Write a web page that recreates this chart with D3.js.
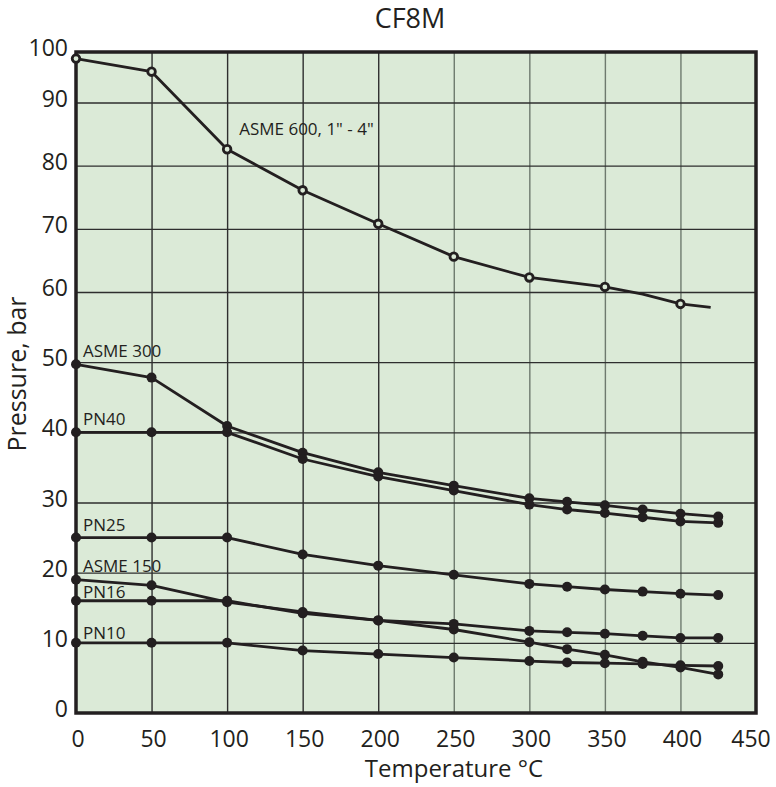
<!DOCTYPE html>
<html>
<head>
<meta charset="utf-8">
<script src="https://cdn.jsdelivr.net/npm/d3@7"></script>
<style>
	body { margin: 0; background: #fff; }
	text { font-family: 'Open Sans', sans-serif; fill: #231f20; }
</style>
</head>
<body>
<div id="chart"></div>
<script>
// data ////////////////////////////////////////////////////////////////////
var temps = [0, 50, 100, 150, 200, 250, 300, 325, 350, 375, 400, 425];
var asme600Temps = [0, 50, 100, 150, 200, 250, 300, 350, 375, 400, 420];
var asme600Marked = [0, 50, 100, 150, 200, 250, 300, 350, 400];

var asme600 = [98.7, 96.1, 82.6, 76.1, 70.8, 65.6, 62.3, 60.8, 59.7, 58.3, 57.8];
var asme300 = [49.7, 47.8, 40.9, 37.1, 34.3, 32.4, 30.6, 30.1, 29.6, 29.0, 28.4, 28.0];
var pn40    = [40, 40, 40, 36.2, 33.7, 31.7, 29.7, 29.0, 28.5, 27.9, 27.3, 27.1];
var pn25    = [25, 25, 25, 22.6, 21.0, 19.7, 18.4, 18.0, 17.6, 17.3, 17.0, 16.8];
var asme150 = [19.0, 18.2, 15.8, 14.4, 13.2, 11.9, 10.1, 9.1, 8.3, 7.3, 6.5, 5.5];
var pn16    = [16, 16, 16, 14.2, 13.2, 12.7, 11.7, 11.5, 11.3, 11.0, 10.7, 10.7];
var pn10    = [10, 10, 10, 8.9, 8.4, 7.9, 7.4, 7.2, 7.1, 7.0, 6.8, 6.7];

var xTicks = [0, 50, 100, 150, 200, 250, 300, 350, 400, 450];
var yTicks = [0, 10, 20, 30, 40, 50, 60, 70, 80, 90, 100];

// series label anchors, in data units
var labels = [
	{text: 'ASME 600, 1" - 4"', t: 108, p: 84.8},
	{text: 'ASME 300', t: 4.6, p: 50.7},
	{text: 'PN40', t: 4.6, p: 41},
	{text: 'PN25', t: 4.6, p: 25.9},
	{text: 'ASME 150', t: 4.6, p: 20.1},
	{text: 'PN16', t: 4.6, p: 16.4},
	{text: 'PN10', t: 4.6, p: 10.6}
];

// layout //////////////////////////////////////////////////////////////////
var W = 776, H = 787;
var plotL = 76, plotR = 756, plotT = 52, plotB = 713;
var ink = '#231f20';
var bg = '#dbead7';

var svg = d3.select('#chart').append('svg')
	.attr('width', W)
	.attr('height', H);

var x = d3.scaleLinear().domain([0, 450]).range([plotL, plotR]);
// the printed grid is not evenly spaced, so the scale is piecewise
var y = d3.scaleLinear().domain([0, 60, 90, 100]).range([plotB, 292, 102.5, plotT]);

svg.append('rect')
	.attr('x', plotL).attr('y', plotT)
	.attr('width', plotR - plotL).attr('height', plotB - plotT)
	.attr('fill', bg);

// grid
var gx = svg.append('g')
	.attr('transform', 'translate(0,' + plotB + ')')
	.call(d3.axisBottom(x).tickValues(xTicks.slice(1, -1)).tickSize(-(plotB - plotT)).tickFormat(''));
gx.select('.domain').remove();
gx.selectAll('line')
	.attr('stroke', function(d) { return d >= 250 ? '#6e7a6e' : '#2e2e2e'; })
	.attr('stroke-width', 1.4);

var gy = svg.append('g')
	.attr('transform', 'translate(' + plotL + ',0)')
	.call(d3.axisLeft(y).tickValues(yTicks.slice(1, -1)).tickSize(-(plotR - plotL)).tickFormat(''));
gy.select('.domain').remove();
gy.selectAll('line')
	.attr('stroke', '#2e2e2e')
	.attr('stroke-width', 1.3);

// tick labels
svg.append('g').selectAll('text')
	.data(xTicks)
	.enter().append('text')
	.attr('x', function(d) { return x(d) + (d == 450 ? -5 : 2); })
	.attr('y', 747)
	.attr('text-anchor', 'middle')
	.style('font-size', '23px')
	.text(function(d) { return d; });

svg.append('g').selectAll('text')
	.data(yTicks)
	.enter().append('text')
	.attr('x', 68)
	.attr('y', function(d) { return y(d) + 4; })
	.attr('text-anchor', 'end')
	.style('font-size', '23px')
	.text(function(d) { return d; });

// border
svg.append('rect')
	.attr('x', plotL).attr('y', plotT)
	.attr('width', plotR - plotL).attr('height', plotB - plotT)
	.attr('fill', 'none')
	.attr('stroke', ink)
	.attr('stroke-width', 3.5);

// titles
svg.append('text')
	.attr('x', 410).attr('y', 28)
	.attr('text-anchor', 'middle')
	.style('font-size', '27px')
	.text('CF8M');

svg.append('text')
	.attr('x', 454).attr('y', 777)
	.attr('text-anchor', 'middle')
	.style('font-size', '24px')
	.text('Temperature °C');

svg.append('text')
	.attr('transform', 'translate(26,374) rotate(-90)')
	.attr('text-anchor', 'middle')
	.style('font-size', '25px')
	.text('Pressure, bar');

// series
var line = d3.line()
	.x(function(d) { return x(d[0]); })
	.y(function(d) { return y(d[1]); });

var series = [asme300, pn40, pn25, asme150, pn16, pn10];
var plot = svg.append('g');

series.forEach(function(vals) {
	var pts = d3.zip(temps, vals);
	plot.append('path')
		.attr('d', line(pts))
		.attr('fill', 'none')
		.attr('stroke', ink)
		.attr('stroke-width', 2.8)
		.attr('stroke-linejoin', 'round');
	plot.selectAll(null)
		.data(pts)
		.enter().append('circle')
		.attr('cx', function(d) { return x(d[0]); })
		.attr('cy', function(d) { return y(d[1]); })
		.attr('r', 5)
		.attr('fill', ink);
});

var pts600 = d3.zip(asme600Temps, asme600);
plot.append('path')
	.attr('d', line(pts600))
	.attr('fill', 'none')
	.attr('stroke', ink)
	.attr('stroke-width', 2.8)
	.attr('stroke-linejoin', 'round');
plot.selectAll(null)
	.data(pts600.filter(function(d) { return asme600Marked.indexOf(d[0]) != -1; }))
	.enter().append('circle')
	.attr('cx', function(d) { return x(d[0]); })
	.attr('cy', function(d) { return y(d[1]); })
	.attr('r', 3.8)
	.attr('fill', bg)
	.attr('stroke', ink)
	.attr('stroke-width', 2.8);

// series labels
svg.append('g').selectAll('text')
	.data(labels)
	.enter().append('text')
	.attr('x', function(d) { return x(d.t); })
	.attr('y', function(d) { return y(d.p); })
	.style('font-size', '17px')
	.text(function(d) { return d.text; });
</script>
</body>
</html>
